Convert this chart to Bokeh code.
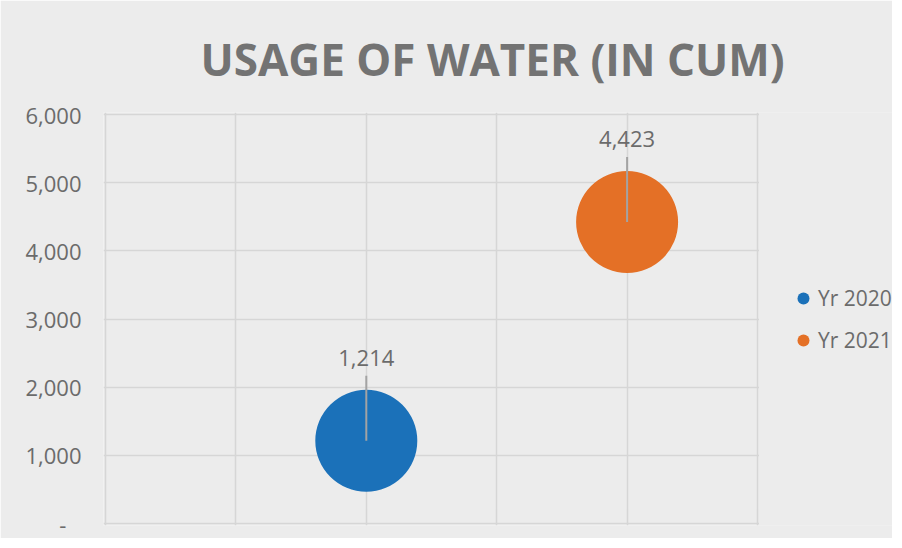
from bokeh.plotting import figure
from bokeh.models import (ColumnDataSource, Legend, LegendItem, LabelSet, FixedTicker,
                          NumeralTickFormatter, Title, BoxAnnotation)
from bokeh.core.properties import value
from bokeh.embed import file_html
from bokeh.resources import INLINE

# ---- data ----
series = ["Yr 2020", "Yr 2021"]
x_pos = [1, 2]
usage = [1214, 4423]
labels = ["1,214", "4,423"]
colors = ["#1b71b9", "#e47026"]
y_ticks = [0, 1000, 2000, 3000, 4000, 5000, 6000]
x_grid = [0, 0.5, 1, 1.5, 2, 2.5]

FONT = "Open Sans"
TXT = "#6b6b6b"
GRID = "#d6d6d6"
BG = "#ececec"

W, H = 892, 538
PAD = 2                              # px of frame beyond the gridded area
PLOT_L, PLOT_T, PLOT_W, PLOT_H = 105, 114, 652, 409
FL = PLOT_L - PAD
FT = PLOT_T - PAD
FB = H - (PLOT_T + PLOT_H + PAD)
frame_w = W - FL
x_max = x_grid[-1]
y_max = y_ticks[-1]
px_x = PLOT_W / x_max
px_y = PLOT_H / y_max
x0 = -PAD / px_x
x1 = x0 + frame_w / px_x
y0 = -PAD / px_y
y1 = y_max + PAD / px_y
leader_dy = 65 / px_y

p = figure(width=W, height=H, output_backend="svg", toolbar_location=None,
           x_range=(x0, x1), y_range=(y0, y1),
           min_border_left=FL, min_border_right=0, min_border_top=FT, min_border_bottom=FB,
           background_fill_color=BG, border_fill_color=BG)
p.title.text = ""
p.outline_line_color = None

t = Title(text="USAGE OF WATER (IN CUM)", align="left", offset=97,
          text_font=FONT, text_font_size="44px", text_font_style="bold",
          text_color="#737373", standoff=48)
p.add_layout(t, "above")

p.xaxis.visible = False
p.xgrid.ticker = FixedTicker(ticks=x_grid)
p.xgrid.grid_line_color = GRID
p.xgrid.grid_line_width = 1.5
p.ygrid.grid_line_color = GRID
p.ygrid.grid_line_width = 1.5

ya = p.yaxis[0]
ya.ticker = FixedTicker(ticks=y_ticks)
ya.formatter = NumeralTickFormatter(format="0,0")
ya.major_label_overrides = {0: "-\u00a0\u00a0\u2009"}
ya.axis_line_color = None
ya.major_tick_line_color = None
ya.minor_tick_line_color = None
ya.major_label_standoff = 16
ya.major_label_text_font = FONT
ya.major_label_text_font_size = "22px"
ya.major_label_text_color = TXT

# hide the horizontal grid lines in the legend zone, right of the plot area
p.add_layout(BoxAnnotation(left=x_max + 1.5 / px_x, fill_color=BG, fill_alpha=1,
                           line_color=None, level="underlay"))

src = ColumnDataSource(dict(x=x_pos, y=usage, lab=labels, c=colors,
                            ytop=[v + leader_dy for v in usage]))

renderers = []
for i in range(len(series)):
    r = p.scatter(x=[x_pos[i]], y=[usage[i]], size=102, fill_color=colors[i],
                  line_color=None, marker="circle")
    renderers.append(r)

# leader lines
p.segment(x0="x", y0="ytop", x1="x", y1="y", source=src, line_color="#a3a3a3", line_width=2)

lbl = LabelSet(x="x", y="y", text="lab", source=src, y_offset=75, text_align="center",
               text_baseline="alphabetic", text_font=value(FONT), text_font_size="22px",
               text_color=TXT)
p.add_layout(lbl)

legend = Legend(items=[LegendItem(label=series[i], renderers=[renderers[i]]) for i in range(len(series))],
                location=(685, 164), orientation="vertical",
                glyph_width=30, glyph_height=30, label_height=42, spacing=0, padding=0,
                margin=0, label_standoff=-5,
                label_text_font=FONT, label_text_font_size="21px", label_text_color=TXT,
                background_fill_alpha=0, border_line_color=None)
p.add_layout(legend)

open("out.html", "w").write(file_html(p, INLINE))
